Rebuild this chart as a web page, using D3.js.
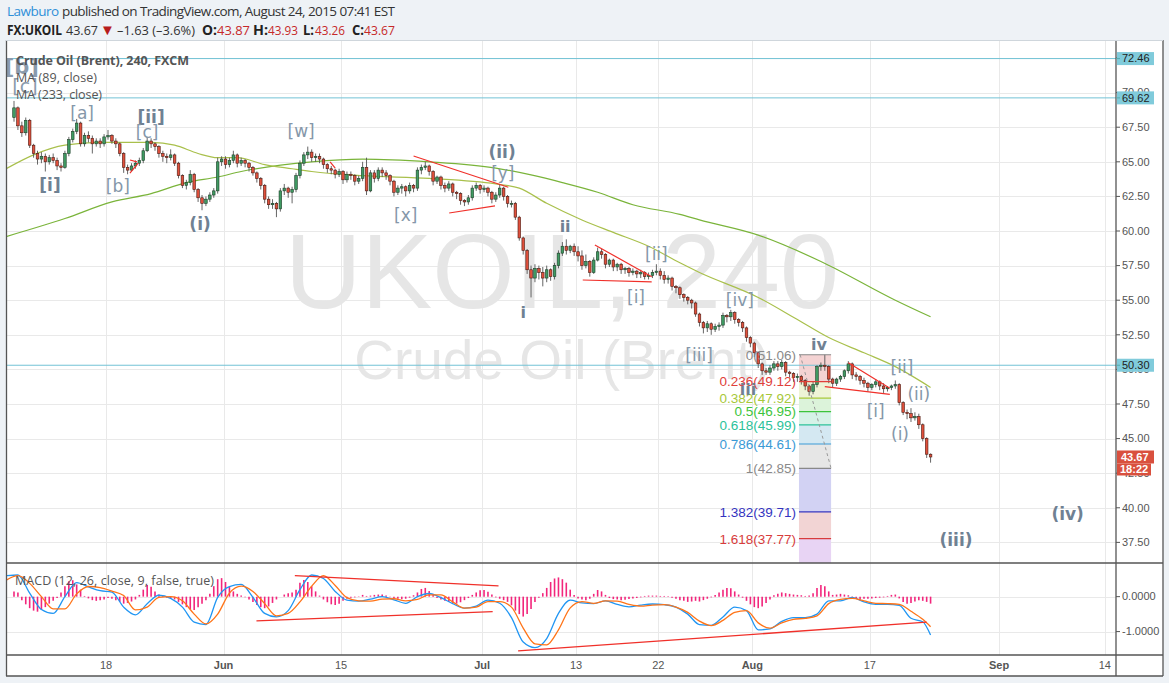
<!DOCTYPE html>
<html><head><meta charset="utf-8">
<script src="https://cdn.jsdelivr.net/npm/d3@7"></script>
<style>body{margin:0;background:#eef2f6;overflow:hidden}svg{display:block}</style>
</head><body><svg id="c" width="1169" height="683"></svg>
<script>
// ---------------- DATA ----------------
const firstOpen = 68.2;
const closes = [
68.9,67.6,67.1,68.0,66.2,65.6,65.2,65.4,65.0,65.3,
65.1,64.7,64.6,65.6,66.6,67.2,67.8,66.3,66.9,66.7,
66.3,66.5,66.3,66.8,66.9,66.5,66.3,65.6,64.6,64.4,
64.7,64.9,65.1,65.8,66.5,66.3,66.1,65.6,65.4,65.3,
65.5,64.9,64.0,63.3,63.5,64.1,63.0,62.4,62.0,62.3,
62.6,62.9,65.0,65.2,64.8,65.1,65.5,64.9,65.1,64.9,
64.6,64.2,63.8,63.3,62.3,61.9,62.0,61.6,62.9,63.1,
62.8,63.0,64.0,64.9,65.5,65.7,65.3,65.4,65.2,64.8,
64.5,64.4,64.1,64.3,63.7,64.1,64.0,63.6,63.8,64.6,
62.9,64.2,63.8,64.4,64.2,64.0,63.6,62.8,63.1,63.2,
62.9,63.3,63.1,64.4,64.6,64.7,64.3,63.6,63.9,63.3,
63.1,63.4,62.8,62.7,62.2,62.1,62.4,63.1,63.3,63.0,
63.1,62.8,62.3,62.6,63.1,62.5,62.0,62.0,61.0,59.5,
58.6,57.2,56.6,57.3,57.0,56.6,57.2,56.7,57.5,58.4,
58.9,58.6,58.9,58.5,58.2,57.5,57.8,57.0,57.9,58.5,
58.3,57.6,57.9,57.4,57.6,57.2,57.3,57.0,57.1,56.9,
57.0,56.7,56.8,57.0,57.1,56.8,56.5,56.6,56.0,55.9,
55.4,55.2,55.0,54.8,54.0,53.4,53.0,53.3,52.9,53.1,
53.2,53.9,53.8,54.1,53.6,53.4,53.0,52.3,51.9,51.2,
50.4,49.9,49.8,50.1,50.4,50.2,50.5,49.8,49.7,49.4,
49.5,49.2,48.8,48.4,48.9,50.2,50.3,50.2,49.3,49.0,
49.3,49.5,49.9,50.4,49.6,49.5,49.2,49.0,48.7,48.9,
49.1,48.8,48.6,48.7,48.8,48.9,47.6,46.9,46.8,46.5,
46.6,46.0,45.0,43.87,43.67];
const highs = [
69.4,69.0,67.9,68.2,68.1,66.3,65.8,65.7,65.6,65.5,
65.6,65.3,64.9,65.8,66.8,67.4,68.1,67.9,67.1,67.2,
66.9,66.7,66.7,67.0,67.3,67.0,66.7,66.4,65.7,64.8,
64.9,65.1,65.3,66.0,66.8,66.7,66.4,66.2,65.8,65.6,
65.9,65.6,65.0,64.1,63.7,64.4,64.2,63.1,62.6,62.5,
62.8,63.1,65.3,65.4,65.4,65.3,65.8,65.6,65.3,65.2,
65.0,64.7,64.3,63.9,63.4,62.5,62.3,62.1,63.1,63.4,
63.2,63.2,64.2,65.1,65.7,66.1,65.9,65.6,65.6,65.3,
64.9,64.7,64.5,64.5,64.4,64.3,64.3,64.1,64.0,65.0,
65.3,64.4,64.4,64.6,64.6,64.4,64.1,63.7,63.3,63.4,
63.3,63.5,63.4,64.6,64.8,65.0,64.8,64.4,64.0,64.0,
63.5,63.6,63.5,62.9,62.8,62.3,62.6,63.3,63.5,63.4,
63.3,63.2,62.9,62.8,63.4,63.2,62.6,62.2,62.1,61.1,
59.6,58.7,57.5,57.6,57.5,57.4,57.5,57.3,57.7,58.6,
59.2,59.4,59.0,59.1,58.9,58.6,58.3,57.9,58.1,58.8,
58.7,58.4,58.0,58.0,57.7,57.7,57.4,57.4,57.3,57.2,
57.2,57.1,57.0,57.2,57.6,57.3,57.1,56.8,56.7,56.1,
56.0,55.5,55.3,55.1,54.9,54.1,53.5,53.5,53.4,53.3,
53.4,54.1,54.0,54.3,54.2,53.7,53.5,53.1,52.4,52.0,
51.3,50.5,50.1,50.3,50.6,50.6,50.7,50.6,49.9,49.8,
49.7,49.6,49.3,48.9,49.1,50.3,50.5,51.06,50.3,49.4,
49.4,49.6,50.0,50.6,50.5,49.8,49.6,49.4,49.1,49.0,
49.3,49.2,49.0,48.8,48.9,49.2,49.0,47.7,47.1,47.2,
46.9,46.8,46.1,45.1,43.93];
const lows = [
67.9,67.3,66.8,66.9,66.0,65.3,64.8,64.9,64.3,64.8,
64.9,64.4,64.3,64.5,65.4,66.4,67.0,66.1,66.1,66.4,
65.6,66.1,66.0,66.1,66.6,66.3,66.0,65.4,64.2,64.1,
64.3,64.5,64.7,64.9,65.7,66.0,65.8,65.3,65.0,64.9,
65.1,64.7,63.8,63.1,63.0,63.3,62.8,62.1,61.5,61.8,
62.1,62.4,62.7,64.7,64.5,64.6,64.9,64.6,64.7,64.6,
64.3,64.0,63.5,63.0,62.0,61.6,61.6,61.0,61.4,62.6,
62.4,62.0,62.8,63.8,64.7,65.2,65.0,65.0,64.9,64.5,
64.2,64.1,63.8,63.9,63.4,63.5,63.7,63.3,63.4,63.6,
62.6,62.8,63.5,63.6,63.9,63.7,63.3,62.5,62.6,62.7,
62.5,62.7,62.8,62.9,64.1,64.4,64.0,63.3,63.4,63.0,
62.8,62.9,62.5,62.3,61.9,61.8,61.9,62.2,62.9,62.7,
62.8,62.5,62.0,62.1,62.4,62.2,61.7,61.7,60.8,59.3,
58.3,56.9,55.2,56.3,56.5,56.0,56.3,56.4,56.5,57.3,
58.2,58.3,58.4,58.2,57.8,57.2,57.3,56.7,56.9,57.8,
58.0,57.3,57.4,57.1,57.1,56.9,56.9,56.7,56.8,56.6,
56.6,56.5,56.5,56.6,56.8,56.5,56.2,56.2,55.7,55.5,
55.1,54.9,54.7,54.4,53.8,53.1,52.6,52.7,52.5,52.7,
52.8,53.0,53.4,53.5,53.3,53.1,52.7,52.0,51.6,50.9,
50.1,49.6,49.6,49.6,49.9,49.9,50.0,49.5,49.4,49.1,
49.1,48.9,48.5,48.1,48.2,48.7,49.9,49.9,49.0,48.7,
48.8,49.1,49.3,49.7,49.3,49.2,48.9,48.7,48.4,48.5,
48.7,48.5,48.3,48.4,48.5,48.6,47.4,46.7,46.4,46.2,
46.3,45.7,44.8,43.6,43.26];

// moving averages at sample bars
const ma89Bars = [-2,5,13,22,35,41,47,52,57,64,71,76,89,106,123,129,136,145,153,162,170,175,190,200,208,217,225,234];
const ma89 =     [64.5,65.5,66.2,66.4,66.4,66.2,65.6,65.3,65.3,64.8,64.5,64.3,64.0,63.8,63.4,63.1,62.0,60.8,59.9,58.9,57.7,57.0,55.2,53.6,52.3,51.2,50.2,48.7];
const ma233Bars = [-2,13,25,35,44,52,58,76,89,106,123,132,140,149,158,170,175,190,206,225,234];
const ma233 =     [59.6,60.9,62.1,62.7,63.5,63.9,64.3,65.0,65.2,65.0,64.55,64.05,63.5,62.8,61.9,61.2,60.8,59.7,57.8,55.0,53.8];

// MACD (12,26,9): one sample per trading day
const macdLine = [0.6,
0.62,0.1,-0.37,-0.48,0.0,0.4,0.28,0.17,0.13,-0.3,
-0.52,-0.2,0.04,-0.05,-0.3,-0.73,-0.8,-0.02,0.29,0.35,
-0.02,-0.48,-0.58,-0.4,0.2,0.62,0.52,0.15,-0.1,-0.13,
-0.07,0.0,-0.09,-0.19,0.0,0.09,-0.03,-0.2,-0.33,-0.27,
-0.1,-0.19,-0.6,-1.3,-1.46,-1.2,-0.48,-0.1,-0.18,-0.2,
-0.12,-0.22,-0.29,-0.24,-0.21,-0.23,-0.3,-0.5,-0.8,-0.82,
-0.58,-0.3,-0.4,-0.95,-0.92,-0.71,-0.6,-0.6,-0.5,-0.12,
-0.12,-0.02,-0.15,-0.22,-0.22,-0.25,-0.62,-0.72,-1.1];
const signalLine = [0.47,
0.6,0.38,0.0,-0.35,-0.35,0.08,0.29,0.26,0.16,0.03,
-0.38,-0.3,-0.02,0.0,-0.12,-0.5,-0.78,-0.5,0.1,0.3,
0.15,-0.2,-0.55,-0.48,-0.15,0.3,0.6,0.32,-0.03,-0.12,
-0.13,-0.07,-0.06,-0.12,-0.08,0.05,0.05,-0.15,-0.33,-0.3,
-0.14,-0.14,-0.3,-0.9,-1.35,-1.38,-0.95,-0.32,-0.14,-0.19,
-0.12,-0.13,-0.22,-0.27,-0.24,-0.23,-0.3,-0.45,-0.7,-0.83,
-0.68,-0.45,-0.4,-0.75,-0.9,-0.75,-0.65,-0.62,-0.55,-0.2,
-0.08,-0.05,-0.12,-0.19,-0.2,-0.22,-0.42,-0.65,-0.86];
const histogram = [
0.15,0.12,-0.1,-0.22,-0.33,-0.4,-0.43,-0.38,-0.3,-0.2,
-0.12,-0.04,0.12,0.3,0.44,0.47,0.35,0.2,0.02,-0.05,
-0.1,-0.12,-0.1,-0.08,-0.04,-0.06,-0.1,-0.15,-0.2,-0.18,
-0.14,-0.08,0.05,0.2,0.33,0.28,0.15,0.06,0.02,-0.03,
-0.05,-0.08,-0.15,-0.22,-0.3,-0.36,-0.38,-0.3,-0.2,-0.1,
0.08,0.3,0.5,0.53,0.42,0.28,0.15,0.08,0.03,-0.02,
-0.08,-0.15,-0.24,-0.3,-0.33,-0.28,-0.18,-0.08,0.0,0.06,
0.1,0.12,0.2,0.4,0.48,0.42,0.3,0.15,0.03,-0.08,
-0.16,-0.22,-0.24,-0.2,-0.12,-0.06,-0.03,-0.02,0.01,0.05,
0.02,0.03,0.05,0.06,0.06,0.03,-0.02,-0.05,-0.06,-0.07,
-0.06,-0.03,0.04,0.12,0.22,0.25,0.16,0.05,-0.04,-0.08,
-0.12,-0.15,-0.18,-0.2,-0.16,-0.1,-0.04,0.05,0.12,0.18,
0.19,0.14,0.06,-0.02,-0.06,-0.1,-0.15,-0.25,-0.4,-0.5,
-0.57,-0.5,-0.35,-0.15,-0.03,0.1,0.25,0.42,0.52,0.55,
0.5,0.4,0.2,0.05,-0.05,-0.08,-0.1,-0.06,0.08,0.19,
0.15,0.05,-0.04,-0.07,-0.08,-0.1,-0.09,-0.07,-0.05,-0.04,
-0.02,0.02,0.03,0.03,0.03,0.02,0.02,0.01,-0.03,-0.06,
-0.1,-0.12,-0.15,-0.14,-0.12,-0.14,-0.1,-0.06,-0.02,0.05,
0.12,0.2,0.25,0.24,0.15,0.06,-0.03,-0.12,-0.22,-0.3,
-0.33,-0.28,-0.18,-0.08,0.04,0.08,0.12,0.1,0.08,0.06,
0.05,0.04,0.02,0.03,0.1,0.25,0.33,0.3,0.15,0.05,
0.06,0.08,0.06,0.04,-0.02,-0.05,-0.08,-0.06,-0.06,-0.05,
-0.04,-0.03,-0.02,0.02,0.05,0.06,-0.05,-0.15,-0.2,-0.18,
-0.14,-0.1,-0.12,-0.15,-0.2];

// axis ticks
const priceTicks = [37.5,40,42.5,45,47.5,50,52.5,55,57.5,60,62.5,65,67.5,70,72.5];
const macdTicks = [0,-1];
const timeTickDates = ["2015-05-18","2015-06-01","2015-06-15","2015-07-01","2015-07-13","2015-07-22","2015-08-03","2015-08-17","2015-09-01","2015-09-14"];
const timeTickLabels = ["18","Jun","15","Jul","13","22","Aug","17","Sep","14"];

// horizontal levels
const hLevels = [72.46, 69.62, 50.30];
const lastPrice = 43.67;

// Fibonacci retracement
const fibRatios = ["0","0.236","0.382","0.5","0.618","0.786","1","1.382","1.618","2.618"];
const fibPrices = [51.06,49.12,47.92,46.95,45.99,44.61,42.85,39.71,37.77,29.57];
const fibBars = [200.4, 208.6];

// Elliott wave labels: [text, bar, price, degree]
const waveLabels = [
 ["[b]",2.0,71.85,"big"],["[c]",2.8,70.45,"bigr"],
 ["[a]",17.4,68.55,"r"],["[ii]",35,68.24,"b"],["[c]",34,67.15,"r"],
 ["[i]",9.2,63.32,"b"],["[b]",26.5,63.25,"r"],["(i)",47.5,60.5,"b"],
 ["[w]",73.3,67.2,"r"],["[x]",100,61.16,"r"],["(ii)",124.6,65.71,"b"],
 ["[y]",124.8,64.19,"r"],["i",130,54.15,"s"],["ii",140.7,60.36,"s"],
 ["[ii]",164,58.34,"r"],["[i]",158.8,55.23,"r"],["[iv]",185.3,55.01,"r"],
 ["[iii]",174.9,51.04,"r"],["iv",205.5,51.84,"s"],["iii",187.4,48.58,"s"],
 ["[ii]",226.7,50.17,"r"],["(ii)",231,48.22,"r"],["[i]",220,47.0,"r"],
 ["(i)",226.2,45.33,"r"],["(iii)",240.5,37.67,"b"],["(iv)",269,39.55,"b"]
];
// trend lines on price: [bar1, price1, bar2, price2]
const priceTrendLines = [
 [102,65.42,126.2,63.16],[111.1,61.30,122.8,61.81],
 [148.3,58.99,162.8,56.70],[145.2,56.46,162.8,56.32],
 [213,50.48,223.6,48.63],[207,48.75,223.6,48.20],
 [29.6,65.13,31.4,64.99],[29.6,64.19,31.7,64.91],[80.7,64.99,82,64.55]
];
const macdTrendLines = [
 [71.7,0.60,123.7,0.306],[61.9,-0.694,122.2,-0.429],[128.7,-1.551,233,-0.731]
];
const fibTrend = [200.7,51.06,208.6,42.85];

// ---------------- CHART ----------------
const W=1169,H=683;
const L=7, R=1116, PT=41, PB=563, MT=563, MB=655, AB=676;
const svg=d3.select("#c");
const FONT="'Liberation Sans', Arial, sans-serif";

svg.append("rect").attr("width",W).attr("height",H).attr("fill","#eef2f6");
svg.append("rect").attr("x",6).attr("y",40).attr("width",1157).attr("height",636).attr("fill","#fff");

const x=d3.scaleLinear().domain([0,234]).range([14,14+3.917*234]);
const y=d3.scaleLinear().domain([36.01,73.73]).range([PB,PT]);
const ym=d3.scaleLinear().domain([-1.67,0.963]).range([MB,MT]);

// trading-day index
const start=new Date(2015,4,6);
function tdi(s){const t=new Date(s+"T00:00:00");const d=new Date(start);let n=0;while(d<t){const w=d.getDay();if(w!==0&&w!==6)n++;d.setDate(d.getDate()+1);}return n;}
const tickX=timeTickDates.map(s=>x(3*tdi(s)-0.5));

const defs=svg.append("defs");
defs.append("clipPath").attr("id","cp").append("rect").attr("x",L).attr("y",PT).attr("width",R-L).attr("height",PB-PT);
defs.append("clipPath").attr("id","cm").append("rect").attr("x",L).attr("y",MT).attr("width",R-L).attr("height",MB-MT);

// grid
const grid=svg.append("g").attr("stroke","#e9e9e9").attr("stroke-width",1);
priceTicks.forEach(p=>grid.append("line").attr("x1",L).attr("x2",R).attr("y1",Math.round(y(p))+0.5).attr("y2",Math.round(y(p))+0.5));
macdTicks.forEach(v=>grid.append("line").attr("x1",L).attr("x2",R).attr("y1",Math.round(ym(v))+0.5).attr("y2",Math.round(ym(v))+0.5));
tickX.forEach(tx=>grid.append("line").attr("x1",Math.round(tx)+0.5).attr("x2",Math.round(tx)+0.5).attr("y1",PT).attr("y2",MB));

const gp=svg.append("g").attr("clip-path","url(#cp)");
// watermark
gp.append("text").attr("x",562).attr("y",308).attr("text-anchor","middle").attr("font-family",FONT).attr("font-size",106).attr("fill","#e6e6e6").text("UKOIL, 240");
gp.append("text").attr("x",562).attr("y",379).attr("text-anchor","middle").attr("font-family",FONT).attr("font-size",55).attr("fill","#e6e6e6").text("Crude Oil (Brent)");

// fib bands
const fibColors=["#f4d3d3","#eef4d6","#dcf3da","#d6f2e8","#d4e8f2","#e6e6e6","#d2d2f3","#f2d4d4","#e8d4f4"];
const fx1=x(fibBars[0]), fx2=x(fibBars[1]);
for(let i=0;i<fibPrices.length-1;i++){
  gp.append("rect").attr("x",fx1).attr("width",fx2-fx1).attr("y",y(fibPrices[i])).attr("height",y(fibPrices[i+1])-y(fibPrices[i])).attr("fill",fibColors[i]);
}

// horizontal levels
hLevels.forEach(p=>gp.append("line").attr("x1",L).attr("x2",R).attr("y1",y(p)).attr("y2",y(p)).attr("stroke","#72c3d5").attr("stroke-width",1));

// MAs
const lineGen=d3.line().curve(d3.curveMonotoneX);
gp.append("path").attr("d",lineGen(ma233Bars.map((b,i)=>[x(b),y(ma233[i])]))).attr("fill","none").attr("stroke","#7ab43a").attr("stroke-width",1.2);
gp.append("path").attr("d",lineGen(ma89Bars.map((b,i)=>[x(b),y(ma89[i])]))).attr("fill","none").attr("stroke","#a9c04c").attr("stroke-width",1.2);

// candles
const bw=2.6;
closes.forEach((c,i)=>{
  const o=i===0?firstOpen:closes[i-1];
  const hi=Math.max(highs[i],o,c), lo=Math.min(lows[i],o,c);
  const up=c>=o, cx=x(i);
  gp.append("line").attr("x1",cx).attr("x2",cx).attr("y1",y(hi)).attr("y2",y(lo)).attr("stroke","#555").attr("stroke-width",0.9);
  const top=y(Math.max(o,c)), h=Math.max(1,y(Math.min(o,c))-top);
  gp.append("rect").attr("x",cx-bw/2).attr("y",top).attr("width",bw).attr("height",h)
    .attr("fill",up?"#3f9a62":"#e0503c").attr("stroke",up?"#1d3f28":"#4a1a12").attr("stroke-width",0.6);
});

// fib lines and labels
const fibLineColors=["#888","#e0403a","#a8c83a","#3cc43c","#2cc29a","#3a9ad6","#888","#3434c0","#d83c3c","#a050d0"];
for(let i=0;i<fibPrices.length-1;i++){
  gp.append("line").attr("x1",fx1).attr("x2",fx2).attr("y1",y(fibPrices[i])).attr("y2",y(fibPrices[i])).attr("stroke",fibLineColors[i]).attr("stroke-width",1.2);
  gp.append("text").attr("x",fx1-3).attr("y",y(fibPrices[i])).attr("dy","0.36em").attr("text-anchor","end")
    .attr("font-family",FONT).attr("font-size",13.5).attr("fill",fibLineColors[i]==="#888"?"#8a8a8a":fibLineColors[i])
    .text(fibRatios[i]+"("+fibPrices[i].toFixed(2)+")");
}
gp.append("line").attr("x1",x(fibTrend[0])).attr("y1",y(fibTrend[1])).attr("x2",x(fibTrend[2])).attr("y2",y(fibTrend[3]))
  .attr("stroke","#999").attr("stroke-width",1).attr("stroke-dasharray","3,3");

// trend lines
priceTrendLines.forEach(t=>gp.append("line").attr("x1",x(t[0])).attr("y1",y(t[1])).attr("x2",x(t[2])).attr("y2",y(t[3])).attr("stroke","#f0302a").attr("stroke-width",1.2));

// wave labels
const styles={big:{s:21,w:"bold",c:"#8a9bad"},bigr:{s:19,w:"normal",c:"#8a9bad"},r:{s:17,w:"normal",c:"#8597a9"},b:{s:17,w:"bold",c:"#6f8193"},s:{s:16,w:"bold",c:"#6f8193"}};
waveLabels.forEach(l=>{const st=styles[l[3]];
  gp.append("text").attr("x",x(l[1])).attr("y",y(l[2])).attr("dy","0.35em").attr("text-anchor","middle")
    .attr("font-family","'DejaVu Sans', Verdana, sans-serif").attr("font-size",st.s).attr("font-weight",st.w).attr("fill",st.c).text(l[0]);});

// legend
const lg=svg.append("g").attr("font-family","'Open Sans', sans-serif").attr("fill","#555");
lg.append("text").attr("x",16).attr("y",65).attr("font-size",12.5).attr("font-weight","bold").attr("textLength",173).text("Crude Oil (Brent), 240, FXCM");
lg.append("text").attr("x",16).attr("y",82).attr("font-size",12.5).attr("textLength",81).text("MA (89, close)");
lg.append("text").attr("x",16).attr("y",99).attr("font-size",12.5).attr("textLength",86).text("MA (233, close)");

// MACD pane
const gm=svg.append("g").attr("clip-path","url(#cm)");
histogram.forEach((v,i)=>gm.append("line").attr("x1",x(i)).attr("x2",x(i)).attr("y1",ym(0)).attr("y2",ym(v)).attr("stroke","#f2267c").attr("stroke-width",1.6));
const macdBars=[-2].concat(d3.range(78).map(d=>3*d+1),[234]);
gm.append("path").attr("d",lineGen(macdBars.map((b,i)=>[x(b),ym(macdLine[i])]))).attr("fill","none").attr("stroke","#2196f3").attr("stroke-width",1.3);
gm.append("path").attr("d",lineGen(macdBars.map((b,i)=>[x(b),ym(signalLine[i])]))).attr("fill","none").attr("stroke","#ff7418").attr("stroke-width",1.3);
macdTrendLines.forEach(t=>gm.append("line").attr("x1",x(t[0])).attr("y1",ym(t[1])).attr("x2",x(t[2])).attr("y2",ym(t[3])).attr("stroke","#f0302a").attr("stroke-width",1.3));
svg.append("text").attr("x",15).attr("y",585).attr("font-family","'Open Sans', sans-serif").attr("font-size",12.5).attr("fill","#555").attr("textLength",199).text("MACD (12, 26, close, 9, false, true)");

// frame lines
const fr=svg.append("g").attr("stroke","#555").attr("stroke-width",1.3);
fr.append("line").attr("x1",6).attr("x2",1163).attr("y1",PB).attr("y2",PB);
fr.append("line").attr("x1",6).attr("x2",1163).attr("y1",MB).attr("y2",MB);
fr.append("line").attr("x1",R).attr("x2",R).attr("y1",40).attr("y2",AB);
fr.append("line").attr("x1",6.5).attr("x2",6.5).attr("y1",40).attr("y2",AB);
fr.append("line").attr("x1",6).attr("x2",1163).attr("y1",AB).attr("y2",AB);
fr.append("line").attr("x1",1163).attr("x2",1163).attr("y1",40).attr("y2",AB);
svg.append("line").attr("x1",6).attr("x2",1163).attr("y1",40.5).attr("y2",40.5).attr("stroke","#cfd6dc");

// right price axis
const ax=svg.append("g").attr("font-family",FONT).attr("font-size",11).attr("fill","#555");
priceTicks.forEach(p=>{ax.append("line").attr("x1",R).attr("x2",R+4).attr("y1",y(p)).attr("y2",y(p)).attr("stroke","#555");
  ax.append("text").attr("x",R+6).attr("y",y(p)).attr("dy","0.35em").text(d3.format(".2f")(p));});
macdTicks.forEach(v=>{ax.append("line").attr("x1",R).attr("x2",R+4).attr("y1",ym(v)).attr("y2",ym(v)).attr("stroke","#555");
  ax.append("text").attr("x",R+6).attr("y",ym(v)).attr("dy","0.35em").text(d3.format(".4f")(v).replace("\u2212","-"));});
// level labels
hLevels.forEach(p=>{ax.append("rect").attr("x",R+1).attr("y",y(p)-6.5).attr("width",37).attr("height",13).attr("fill","#80cbdb");
  ax.append("line").attr("x1",R).attr("x2",R+4).attr("y1",y(p)).attr("y2",y(p)).attr("stroke","#5aa");
  ax.append("text").attr("x",R+6).attr("y",y(p)).attr("dy","0.35em").attr("fill","#222").text(d3.format(".2f")(p));});
ax.append("rect").attr("x",R+1).attr("y",y(lastPrice)-6.5).attr("width",37).attr("height",13).attr("fill","#d9503e");
ax.append("text").attr("x",R+5).attr("y",y(lastPrice)).attr("dy","0.35em").attr("fill","#fff").attr("font-weight","bold").text(d3.format(".2f")(lastPrice));
ax.append("rect").attr("x",R+1).attr("y",y(lastPrice)+6.5).attr("width",34).attr("height",12).attr("fill","#d9503e");
ax.append("text").attr("x",R+4).attr("y",y(lastPrice)+12.5).attr("dy","0.35em").attr("fill","#fff").attr("font-weight","bold").text("18:22");

// time axis
timeTickLabels.forEach((t,i)=>ax.append("text").attr("x",tickX[i]).attr("y",665).attr("dy","0.35em").attr("text-anchor","middle")
  .attr("font-weight",/^[A-Z]/.test(t)?"bold":"normal").text(t));

// header
const hd=svg.append("g").attr("font-family","'Open Sans', sans-serif").attr("font-size",13.5);
hd.append("text").attr("x",7).attr("y",15.5).attr("fill","#2f8fd8").attr("textLength",52).text("Lawburo");
hd.append("text").attr("x",62).attr("y",15.5).attr("fill","#333").attr("textLength",333).text("published on TradingView.com, August 24, 2015 07:41 EST");
const h2=[["FX:UKOIL",7,55,"#222","bold"],["43.67",66,32,"#333","normal"],["\u20131.63 (\u20133.6%)",117,78,"#333","normal"],
 ["O:",202,15,"#222","bold"],["43.87",217,33,"#c62828","normal"],["H:",253,15,"#222","bold"],["43.93",268,30,"#c62828","normal"],
 ["L:",303,11,"#222","bold"],["43.26",315,30,"#c62828","normal"],["C:",352,12,"#222","bold"],["43.67",364,31,"#c62828","normal"]];
h2.forEach(d=>hd.append("text").attr("x",d[1]).attr("y",34.5).attr("fill",d[3]).attr("font-weight",d[4]).attr("textLength",d[2]).attr("lengthAdjust","spacingAndGlyphs").text(d[0]));
hd.append("text").attr("x",107.5).attr("y",34.5).attr("text-anchor","middle").attr("font-size",15).attr("fill","#b71c1c").text("\u25BC");
</script></body></html>
